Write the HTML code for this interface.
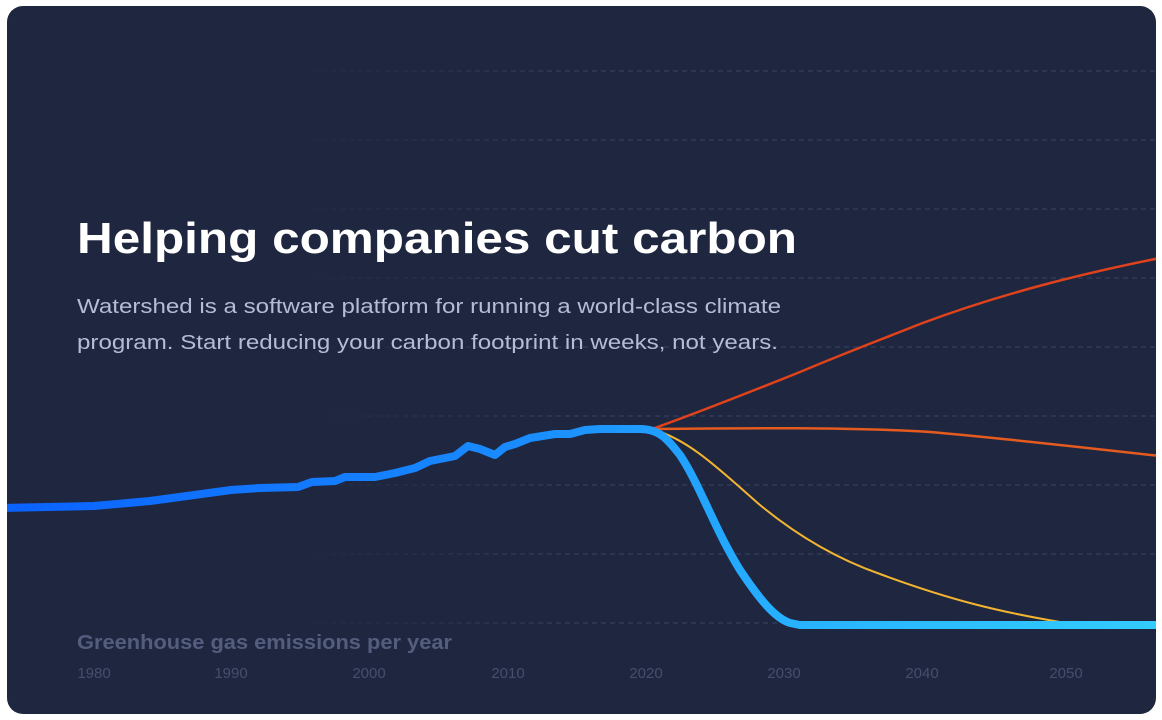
<!DOCTYPE html>
<html><head><meta charset="utf-8"><style>
html,body{margin:0;padding:0;background:#fff;width:1162px;height:720px;overflow:hidden}
svg{display:block}
text{font-family:"Liberation Sans",sans-serif}
</style></head><body>
<svg width="1162" height="720" viewBox="0 0 1162 720" xmlns="http://www.w3.org/2000/svg">
<defs>
<clipPath id="card"><rect x="7" y="6" width="1149" height="708" rx="16"/></clipPath>
<linearGradient id="gfade" gradientUnits="userSpaceOnUse" x1="0" y1="0" x2="1156" y2="0">
<stop offset="0.25" stop-color="#3a4563" stop-opacity="0"/><stop offset="0.5" stop-color="#3a4563" stop-opacity="1"/>
</linearGradient>
<linearGradient id="blue" gradientUnits="userSpaceOnUse" x1="7" y1="0" x2="1156" y2="0">
<stop offset="0" stop-color="#0a62ff"/><stop offset="0.45" stop-color="#1a8cff"/><stop offset="0.7" stop-color="#28b4ff"/><stop offset="1" stop-color="#33ccff"/>
</linearGradient>
</defs>
<rect x="7" y="6" width="1149" height="708" rx="16" fill="#1f2740"/>
<g clip-path="url(#card)">
<g stroke="url(#gfade)" stroke-width="1" stroke-dasharray="5 4">
<line x1="7" x2="1156" y1="71" y2="71"/><line x1="7" x2="1156" y1="140" y2="140"/>
<line x1="7" x2="1156" y1="209" y2="209"/><line x1="7" x2="1156" y1="278" y2="278"/>
<line x1="7" x2="1156" y1="347" y2="347"/><line x1="7" x2="1156" y1="416" y2="416"/>
<line x1="7" x2="1156" y1="485" y2="485"/><line x1="7" x2="1156" y1="554" y2="554"/>
<line x1="7" x2="1156" y1="623" y2="623"/>
</g>
<path d="M652,429 C700,412 760,388 800,372 C850,351 880,340 920,324 C1000,294 1080,274 1160,258" fill="none" stroke="#e0421c" stroke-width="2.5"/>
<path d="M652,429 C750,428 850,427 930,432 C1000,438 1080,447 1160,456" fill="none" stroke="#e55a1e" stroke-width="2.5"/>
<path d="M652,429 C690,440 720,470 760,505 C800,538 840,560 880,574 C950,600 1000,612 1060,622 L1160,625" fill="none" stroke="#f3b531" stroke-width="2"/>
<path d="M0,508 L94,506 L150,501 L231,490 L260,488 L298,487 L312,482 L335,481 L345,477 L375,477 L395,473 L415,468 L430,461 L455,456 L468,446 L480,449 L495,455 L505,447 L515,444 L530,438 L555,434 L570,434 L585,430 L600,429 L640,429 C660,429 668,440 680,455 C700,485 715,530 740,570 C760,600 775,618 790,623 L800,625 L1160,625" fill="none" stroke="url(#blue)" stroke-width="8" stroke-linejoin="round" stroke-linecap="round"/>
</g>
<text x="77" y="253" font-size="44" font-weight="bold" fill="#ffffff" textLength="720" lengthAdjust="spacingAndGlyphs">Helping companies cut carbon</text>
<text x="77" y="313" font-size="20" fill="#b4bcd6" textLength="704" lengthAdjust="spacingAndGlyphs">Watershed is a software platform for running a world-class climate</text>
<text x="77" y="349" font-size="20" fill="#b4bcd6" textLength="701" lengthAdjust="spacingAndGlyphs">program. Start reducing your carbon footprint in weeks, not years.</text>
<text x="77" y="649" font-size="20" font-weight="bold" fill="#545d7e" textLength="375" lengthAdjust="spacingAndGlyphs">Greenhouse gas emissions per year</text>
<g font-size="15" fill="#454e6d" text-anchor="middle">
<text x="94" y="678">1980</text><text x="231" y="678">1990</text><text x="369" y="678">2000</text>
<text x="508" y="678">2010</text><text x="646" y="678">2020</text><text x="784" y="678">2030</text>
<text x="922" y="678">2040</text><text x="1066" y="678">2050</text>
</g>
</svg>
</body></html>
